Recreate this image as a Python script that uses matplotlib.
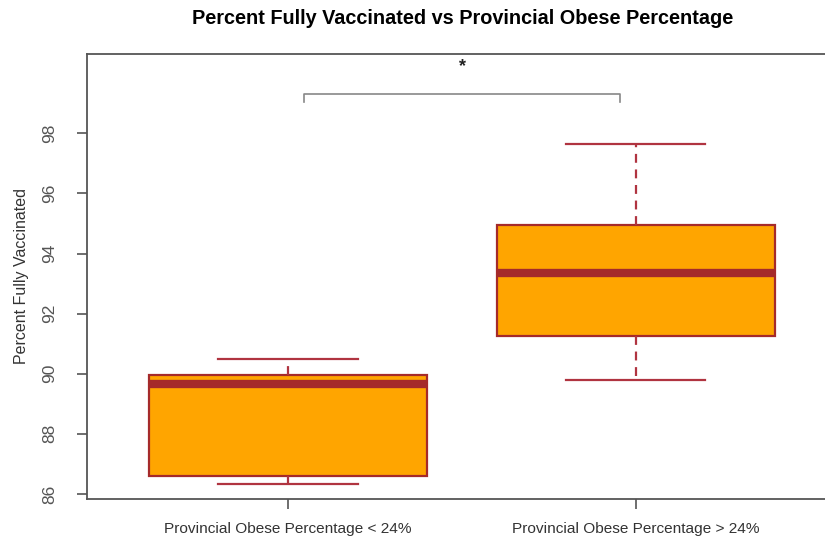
import matplotlib
matplotlib.use("Agg")
import matplotlib.pyplot as plt

plt.rcParams['font.family'] = ['Liberation Sans', 'DejaVu Sans']

# box statistics
groups = ["Provincial Obese Percentage < 24%", "Provincial Obese Percentage > 24%"]
whislo = [86.32, 89.79]
q1 = [86.58, 91.26]
med = [89.65, 93.35]
q3 = [89.96, 94.95]
whishi = [90.48, 97.63]
yticks = [86, 88, 90, 92, 94, 96, 98]

# significance bracket
bracket_x = [1.046, 1.955]
bracket_y = 99.31
bracket_drop = 0.27
sig_label = "*"

FILL = "#FFA500"
EDGE = "#A52A2A"
GREY = "#555555"

fig = plt.figure(figsize=(8.25, 5.39), dpi=100)
ax = fig.add_axes([87.3 / 825, 40.3 / 539, (835 - 87.3) / 825, (498.7 - 54.3) / 539])

stats = []
for i in range(len(groups)):
    stats.append({"whislo": whislo[i], "q1": q1[i], "med": med[i],
                  "q3": q3[i], "whishi": whishi[i], "fliers": []})

ax.bxp(stats, positions=[1, 2], widths=0.8, patch_artist=True,
       showfliers=False,
       boxprops=dict(facecolor=FILL, edgecolor=EDGE, linewidth=1.6),
       medianprops=dict(color=EDGE, linewidth=6, solid_capstyle="butt"),
       whiskerprops=dict(color="#B03440", linewidth=1.6, linestyle=(0, (4, 3))),
       capprops=dict(color="#B03440", linewidth=1.6),
       capwidths=0.4)

# bracket + star
bx0, bx1 = bracket_x
ax.plot([bx0, bx0, bx1, bx1],
        [bracket_y - bracket_drop, bracket_y, bracket_y, bracket_y - bracket_drop],
        color="#888888", linewidth=1.2, clip_on=False)
ax.text((bx0 + bx1) / 2, 100.22, sig_label, ha="center", va="center",
        fontsize=13, fontweight="bold", color="#222222")

ax.set_xlim(0.4228, 2.573)
ax.set_ylim(85.84, 100.63)
ax.set_yticks(yticks)
ax.set_yticklabels([str(t) for t in yticks], rotation=90, va="center",
                   fontsize=12.5, color="#555555")
ax.set_xticks([1, 2])
ax.set_xticklabels(groups, fontsize=11.1, color="#333333")
ax.tick_params(axis="both", direction="out", length=7.5, width=1.2, color=GREY)
ax.tick_params(axis="x", pad=9)
ax.tick_params(axis="y", pad=14)

for side in ["left", "bottom", "top"]:
    ax.spines[side].set_color(GREY)
    ax.spines[side].set_linewidth(1.3)
ax.spines["right"].set_visible(False)

ax.set_ylabel("Percent Fully Vaccinated", fontsize=11.5, color="#333333", labelpad=10)

fig.text(463 / 825, 1 - 18 / 539, "Percent Fully Vaccinated vs Provincial Obese Percentage",
         ha="center", va="center", fontsize=14.3, fontweight="bold", color="black")

fig.savefig("out.png", dpi=100)
